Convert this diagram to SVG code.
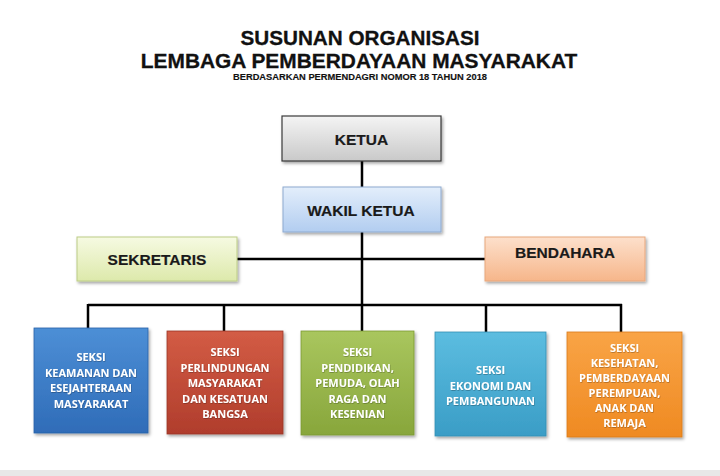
<svg xmlns="http://www.w3.org/2000/svg" width="720" height="476" viewBox="0 0 720 476">
<defs>
<linearGradient id="gGrey" x1="0" y1="0" x2="0" y2="1"><stop offset="0" stop-color="#f4f4f4"/><stop offset="1" stop-color="#c9c9c9"/></linearGradient>
<linearGradient id="gLBlue" x1="0" y1="0" x2="0" y2="1"><stop offset="0" stop-color="#e3eefb"/><stop offset="1" stop-color="#b2cdf0"/></linearGradient>
<linearGradient id="gLGreen" x1="0" y1="0" x2="0" y2="1"><stop offset="0" stop-color="#f6fae2"/><stop offset="1" stop-color="#dde9ab"/></linearGradient>
<linearGradient id="gPeach" x1="0" y1="0" x2="0" y2="1"><stop offset="0" stop-color="#fde0cc"/><stop offset="1" stop-color="#f6b68a"/></linearGradient>
<linearGradient id="gBlue" x1="0" y1="0" x2="0" y2="1"><stop offset="0" stop-color="#4d8fd6"/><stop offset="1" stop-color="#2f6cb8"/></linearGradient>
<linearGradient id="gRed" x1="0" y1="0" x2="0" y2="1"><stop offset="0" stop-color="#d35c45"/><stop offset="1" stop-color="#b03d2c"/></linearGradient>
<linearGradient id="gGreen" x1="0" y1="0" x2="0" y2="1"><stop offset="0" stop-color="#a9c65e"/><stop offset="1" stop-color="#88a63b"/></linearGradient>
<linearGradient id="gTeal" x1="0" y1="0" x2="0" y2="1"><stop offset="0" stop-color="#5cbde0"/><stop offset="1" stop-color="#3a9dc6"/></linearGradient>
<linearGradient id="gOrange" x1="0" y1="0" x2="0" y2="1"><stop offset="0" stop-color="#f9a446"/><stop offset="1" stop-color="#ef8a22"/></linearGradient>
<filter id="sh" x="-10%" y="-10%" width="125%" height="125%"><feDropShadow dx="1.5" dy="2" stdDeviation="1.5" flood-color="#000" flood-opacity="0.35"/></filter>
<filter id="tsh" x="-10%" y="-10%" width="120%" height="130%"><feDropShadow dx="0.5" dy="0.8" stdDeviation="0.5" flood-color="#000" flood-opacity="0.3"/></filter>
</defs>
<style>
.title{font-family:"Liberation Sans",Arial,sans-serif;font-weight:bold;fill:#111;text-anchor:middle;stroke:#111;stroke-width:0.3}
.top{font-family:"Liberation Sans",Arial,sans-serif;font-weight:bold;font-size:15.5px;fill:#1a1a1a;text-anchor:middle;stroke:#1a1a1a;stroke-width:0.2}
.sec{font-family:"Open Sans",Lato,sans-serif;font-weight:bold;font-size:11px;fill:#ffffff;text-anchor:middle;filter:url(#tsh)}
.box{filter:url(#sh)}
.line{stroke:#000;stroke-width:2.5;fill:none}
</style>
<rect x="0" y="0" width="720" height="476" fill="#ffffff"/>
<rect x="0" y="470" width="720" height="6" fill="#e8e8e8"/>
<g id="title">
<text class="title" x="360" y="45" font-size="20.7">SUSUNAN ORGANISASI</text>
<text class="title" x="359" y="68" font-size="20.9">LEMBAGA PEMBERDAYAAN MASYARAKAT</text>
<text class="title" x="360" y="80" font-size="9.3" style="stroke-width:0.15">BERDASARKAN PERMENDAGRI NOMOR 18 TAHUN 2018</text>
</g>
<g id="connectors">
<path class="line" d="M362 161 V187 M362 232 V305 M237 259 H485 M88 305 H622 M88 304 V328 M224 304 V331 M362 304 V331 M486 304 V332 M621 304 V332"/>
</g>
<g id="ketua">
<rect class="box" x="282" y="116" width="159" height="45" fill="url(#gGrey)" stroke="#3a3a3a" stroke-width="1.2"/>
<text class="top" x="361.5" y="145" font-size="16">KETUA</text>
</g>
<g id="wakil">
<rect class="box" x="283" y="187" width="158" height="45" fill="url(#gLBlue)" stroke="#8eaad0" stroke-width="1"/>
<text class="top" x="361" y="216">WAKIL KETUA</text>
</g>
<g id="sekretaris">
<rect class="box" x="77" y="237" width="160" height="44" fill="url(#gLGreen)" stroke="#bccc86" stroke-width="1"/>
<text class="top" x="157" y="265">SEKRETARIS</text>
</g>
<g id="bendahara">
<rect class="box" x="485" y="237" width="160" height="44" fill="url(#gPeach)" stroke="#e8a77c" stroke-width="1"/>
<text class="top" x="565" y="258">BENDAHARA</text>
</g>
<g id="seksi1">
<rect class="box" x="34" y="328" width="114" height="105" fill="url(#gBlue)" stroke="#2a62a8" stroke-width="0.8"/>
<text class="sec" x="91"><tspan x="91" y="361">SEKSI</tspan><tspan x="91" y="376.5">KEAMANAN DAN</tspan><tspan x="91" y="392">ESEJAHTERAAN</tspan><tspan x="91" y="407.5">MASYARAKAT</tspan></text>
</g>
<g id="seksi2">
<rect class="box" x="167" y="331" width="116" height="103" fill="url(#gRed)" stroke="#9a3526" stroke-width="0.8"/>
<text class="sec" x="225"><tspan x="225" y="356">SEKSI</tspan><tspan x="225" y="371.5">PERLINDUNGAN</tspan><tspan x="225" y="387">MASYARAKAT</tspan><tspan x="225" y="402.5">DAN KESATUAN</tspan><tspan x="225" y="418">BANGSA</tspan></text>
</g>
<g id="seksi3">
<rect class="box" x="301" y="331" width="113" height="104" fill="url(#gGreen)" stroke="#7c9834" stroke-width="0.8"/>
<text class="sec" x="357.5"><tspan x="357.5" y="356">SEKSI</tspan><tspan x="357.5" y="371.5">PENDIDIKAN,</tspan><tspan x="357.5" y="387">PEMUDA, OLAH</tspan><tspan x="357.5" y="402.5">RAGA DAN</tspan><tspan x="357.5" y="418">KESENIAN</tspan></text>
</g>
<g id="seksi4">
<rect class="box" x="435" y="332" width="111" height="104" fill="url(#gTeal)" stroke="#348fb5" stroke-width="0.8"/>
<text class="sec" x="490.5"><tspan x="490.5" y="374">SEKSI</tspan><tspan x="490.5" y="389.5">EKONOMI DAN</tspan><tspan x="490.5" y="405">PEMBANGUNAN</tspan></text>
</g>
<g id="seksi5">
<rect class="box" x="567" y="332" width="115" height="105" fill="url(#gOrange)" stroke="#d97a1a" stroke-width="0.8"/>
<text class="sec" x="624.5"><tspan x="624.5" y="352">SEKSI</tspan><tspan x="624.5" y="367">KESEHATAN,</tspan><tspan x="624.5" y="382">PEMBERDAYAAN</tspan><tspan x="624.5" y="397">PEREMPUAN,</tspan><tspan x="624.5" y="412">ANAK DAN</tspan><tspan x="624.5" y="427">REMAJA</tspan></text>
</g>
</svg>
